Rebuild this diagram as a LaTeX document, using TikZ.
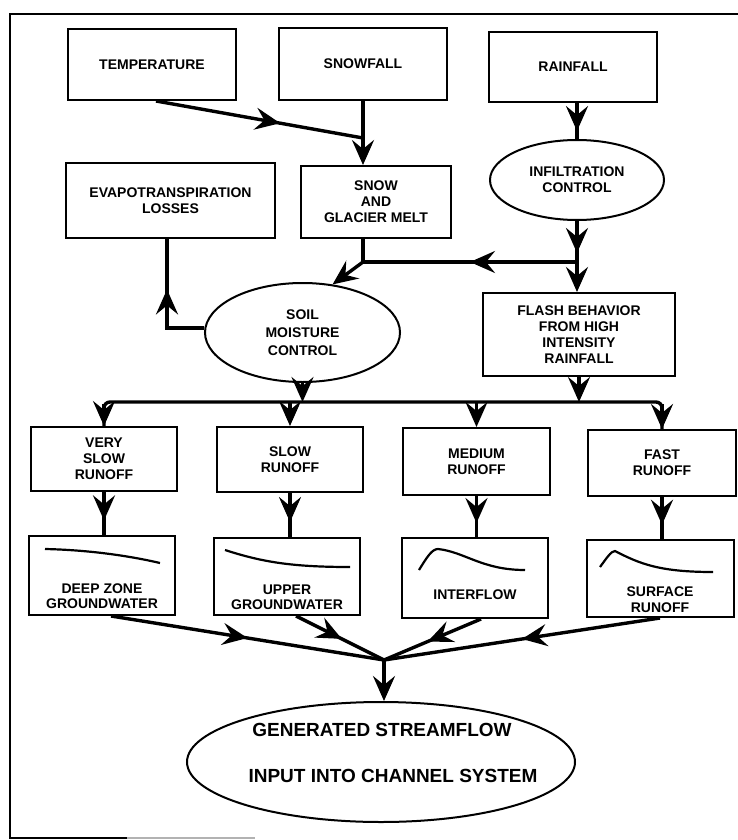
\documentclass[tikz,border=0pt]{standalone}
\usepackage{fontspec}
\setmainfont{Liberation Sans}
\usetikzlibrary{arrows.meta,shapes.geometric,decorations.markings}
\tikzset{
  every node/.style={font=\bfseries\fontsize{14}{16}\selectfont, align=center, inner sep=0pt},
  box/.style={draw, line width=2pt, rectangle},
  oval/.style={draw, line width=2pt, ellipse},
  flow/.style={line width=3.4pt},
  tipend/.style={-{Stealth[length=25pt,width=22pt,inset=9pt]}},
  arrowat/.style={postaction={decorate,decoration={markings,mark=at position #1 with {\arrow{Stealth[length=25pt,width=22pt,inset=9pt]}}}}},
  curve/.style={line width=2.2pt},
  bigtext/.style={font=\bfseries\fontsize{19}{22}\selectfont},
}
\begin{document}
\begin{tikzpicture}[x=1pt,y=-1pt]
\useasboundingbox[fill=white] (0,0) rectangle (738,840);
% frame
\draw[line width=1.4pt] (738,14) -- (10,14) -- (10,838) -- (127,838);
\draw[line width=1.4pt, black!30] (127,838) -- (255,838);
% top row
\node[box, minimum width=168pt, minimum height=71pt] (temp) at (152,64.5) {TEMPERATURE};
\node[box, minimum width=168pt, minimum height=72pt] (snowf) at (363,64) {SNOWFALL};
\node[box, minimum width=168pt, minimum height=70pt] (rainf) at (573,67) {RAINFALL};
% second row
\node[box, minimum width=209pt, minimum height=75pt] (evap) at (170.5,200.5) {EVAPOTRANSPIRATION\\LOSSES};
\node[box, minimum width=150pt, minimum height=72pt] (melt) at (376,202) {SNOW\\AND\\GLACIER MELT};
\node[oval, minimum width=174pt, minimum height=80pt] (infil) at (577,180) {INFILTRATION\\CONTROL};
% third row
\node[oval, minimum width=195pt, minimum height=99pt, font=\bfseries\fontsize{14}{18}\selectfont] (soil) at (302.5,332.5) {SOIL\\MOISTURE\\CONTROL};
\node[box, minimum width=192pt, minimum height=83pt] (flash) at (579,334.5) {FLASH BEHAVIOR\\FROM HIGH\\INTENSITY\\RAINFALL};
% runoff row
\node[box, minimum width=146pt, minimum height=64pt] (vslow) at (104,459) {VERY\\SLOW\\RUNOFF};
\node[box, minimum width=146pt, minimum height=65pt] (slow) at (290,459.5) {SLOW\\RUNOFF};
\node[box, minimum width=147pt, minimum height=67pt] (med) at (476.5,461.5) {MEDIUM\\RUNOFF};
\node[box, minimum width=148pt, minimum height=66pt] (fast) at (662,463) {FAST\\RUNOFF};
% hydrograph row
\node[box, minimum width=146pt, minimum height=79pt] (deep) at (102,575.5) {};
\node[box, minimum width=146pt, minimum height=77pt] (upper) at (287,576.5) {};
\node[box, minimum width=146pt, minimum height=80pt] (inter) at (475,578) {};
\node[box, minimum width=147pt, minimum height=77pt] (surf) at (660,578.5) {};
\node[font=\bfseries\fontsize{14}{14.5}\selectfont] (deeptxt) at (102,596) {DEEP ZONE\\GROUNDWATER};
\node[font=\bfseries\fontsize{14}{14.5}\selectfont] (uppertxt) at (287,597) {UPPER\\GROUNDWATER};
\node (intertxt) at (475,595) {INTERFLOW};
\node[font=\bfseries\fontsize{14}{15.5}\selectfont] (surftxt) at (660,599.5) {SURFACE\\RUNOFF};
\draw[curve] (45,549) .. controls (90,550) and (130,556) .. (160,563);
\draw[curve] (225,550) .. controls (262,562) and (292,567) .. (350,567);
\draw[curve] (419,570) .. controls (427,557) and (432,549) .. (438,549) .. controls (465,552) and (482,570) .. (525,570);
\draw[curve] (600,567) .. controls (606,559) and (611,551) .. (615,551) .. controls (640,564) and (660,572) .. (713,572);
% final
\node[oval, minimum width=388pt, minimum height=120pt] (gen) at (381,762) {};
\node[bigtext] (gen1) at (382,730) {GENERATED STREAMFLOW};
\node[bigtext] (gen2) at (393,776) {INPUT INTO CHANNEL SYSTEM};
% junctions
\coordinate (j1) at (363,138);
\coordinate (j2) at (577,262);
\coordinate (j3) at (363,262);
\coordinate (ec) at (167,328);
\coordinate (busL) at (104,402);
\coordinate (busR) at (662,402);
\coordinate (mrg) at (384,660);
% connectors
\draw[flow, arrowat=0.6] (temp.south) ++(4,0) coordinate (ts) (ts) -- (j1);
\draw[flow, tipend] (snowf.south) -- (melt.north -| j1);
\draw[flow, arrowat=0.78] (rainf.south -| infil.north) -- (infil.north);
\draw[flow, arrowat=0.78] (infil.south) -- (j2);
\draw[flow] (melt.south -| j3) -- (j3);
\draw[flow, arrowat=0.5] (j2) -- (j3);
\draw[flow, tipend] (j3) -- (soil.58);
\draw[flow, tipend] (j2) -- (flash.north -| j2);
\draw[flow, arrowat=0.6] (soil.west |- ec) -- (ec) -- (evap.south -| ec);
\draw[flow, tipend] (soil.south) -- (soil.south |- busL);
\draw[flow, tipend] (flash.south) -- (flash.south |- busL);
\draw[flow, rounded corners=6pt] (vslow.north) -- (busL) -- (busR) -- (fast.north);
\draw[flow, tipend] (vslow.north |- busL) ++(0,2) -- (vslow.north);
\draw[flow, tipend] (slow.north |- busL) -- (slow.north);
\draw[flow, tipend] (med.north |- busL) -- (med.north);
\draw[flow, tipend] (fast.north |- busL) ++(0,2) -- (fast.north);
\draw[flow, arrowat=0.66] (vslow.south) -- (deep.north -| vslow.south);
\draw[flow, arrowat=0.66] (slow.south) -- (upper.north -| slow.south);
\draw[flow, arrowat=0.66] (med.south) -- (inter.north -| med.south);
\draw[flow, arrowat=0.66] (fast.south) -- (surf.north -| fast.south);
\draw[flow, arrowat=0.5] (deep.south) ++(9,0) coordinate (ds) (ds) -- (mrg);
\draw[flow, arrowat=0.52] (upper.south) ++(9,0) coordinate (us) (us) -- (mrg);
\draw[flow, arrowat=0.55] (inter.south) ++(6,0) coordinate (is) (is) -- (mrg);
\draw[flow, arrowat=0.5] (surf.south) -- (mrg);
\draw[flow, tipend] (mrg) -- (gen.north -| mrg);
\end{tikzpicture}
\end{document}
